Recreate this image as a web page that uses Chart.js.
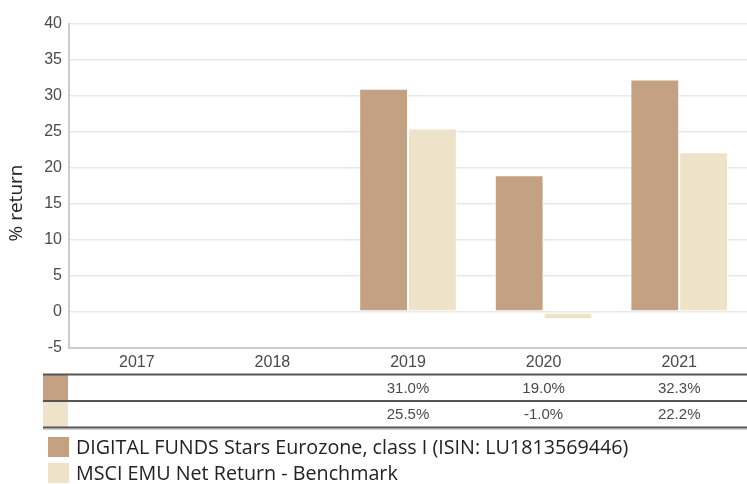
<!DOCTYPE html>
<html><head><meta charset="utf-8">
<script src="https://cdn.jsdelivr.net/npm/chart.js@4"></script>
<style>html,body{margin:0;padding:0;background:#fff}#wrap{width:747px;height:484px;position:relative}</style>
</head><body><div id="wrap"><canvas id="c" width="747" height="484"></canvas></div>
<script>
const categories = ['2017','2018','2019','2020','2021'];
const fundName = 'DIGITAL FUNDS Stars Eurozone, class I (ISIN: LU1813569446)';
const benchName = 'MSCI EMU Net Return - Benchmark';
const fundValues = [null, null, 31.0, 19.0, 32.3];
const benchValues = [null, null, 25.5, -1.0, 22.2];
const yTicks = [-5, 0, 5, 10, 15, 20, 25, 30, 35, 40];
const yTitle = '% return';
const fundColor = '#c4a182';
const benchColor = '#eee2c8';

const tablePlugin = {
  id: 'tableLegend',
  afterDraw(chart) {
    const ctx = chart.ctx;
    const x = chart.scales.x;
    const left = 43, right = 747;
    const lines = [374.5, 401, 427.5];
    ctx.save();
    // y-axis title
    ctx.save();
    ctx.translate(17, 203);
    ctx.rotate(-Math.PI / 2);
    ctx.font = '19px "Open Sans", sans-serif';
    ctx.fillStyle = '#222'; ctx.textAlign = 'center'; ctx.textBaseline = 'middle';
    ctx.fillText(yTitle, 0, 0);
    ctx.restore();
    // swatches
    ctx.fillStyle = fundColor; ctx.fillRect(left, 375, 25, 26);
    ctx.fillStyle = benchColor; ctx.fillRect(left, 401, 25, 27);
    ctx.strokeStyle = '#555'; ctx.lineWidth = 2;
    lines.forEach(y => { ctx.beginPath(); ctx.moveTo(left, y); ctx.lineTo(right, y); ctx.stroke(); });
    ctx.strokeStyle = '#ccc'; ctx.lineWidth = 1;
    ctx.beginPath(); ctx.moveTo(left, 429.5); ctx.lineTo(right, 429.5); ctx.stroke();
    ctx.font = '15px "Liberation Sans", Arial, sans-serif';
    ctx.fillStyle = '#4a4a4a'; ctx.textAlign = 'center'; ctx.textBaseline = 'middle';
    const rows = [fundValues, benchValues];
    const rowY = [389, 415];
    rows.forEach((vals, r) => {
      vals.forEach((v, i) => {
        if (v === null) return;
        ctx.fillText(v.toFixed(1) + '%', x.getPixelForValue(i), rowY[r]);
      });
    });
    // legend
    const legend = [[fundName, fundColor, 447], [benchName, benchColor, 473]];
    ctx.textAlign = 'left';
    ctx.font = '20px "Open Sans", sans-serif';
    legend.forEach(([name, col, y]) => {
      ctx.fillStyle = col; ctx.fillRect(48, y - 10, 21, 20);
      ctx.fillStyle = '#222';
      ctx.save();
      ctx.translate(76, y);
      ctx.scale(0.985, 1);
      ctx.fillText(name, 0, 1);
      ctx.restore();
    });
    ctx.restore();
  }
};

new Chart(document.getElementById('c'), {
  type: 'bar',
  data: {
    labels: categories,
    datasets: [
      { label: fundName, data: fundValues, backgroundColor: fundColor, borderColor: '#ffffff', borderWidth: 1, borderSkipped: false },
      { label: benchName, data: benchValues, backgroundColor: benchColor, borderColor: '#ffffff', borderWidth: 1, borderSkipped: false }
    ]
  },
  options: {
    responsive: false,
    animation: false,
    layout: { padding: { top: 24, right: 0, left: 0, bottom: 0 } },
    categoryPercentage: 0.72,
    barPercentage: 1.0,
    plugins: { legend: { display: false }, tooltip: { enabled: false } },
    scales: {
      x: {
        grid: { display: false, drawTicks: false },
        border: { color: '#ccc', width: 2 },
        ticks: { color: '#4a4a4a', font: { size: 16, family: '"Liberation Sans", Arial, sans-serif' }, padding: 5 },
        afterFit(s) { s.height = 136; }
      },
      y: {
        min: -5, max: 40,
        afterBuildTicks(s) { s.ticks = yTicks.map(v => ({ value: v })); },
        grid: { color: '#e8e8e8', drawTicks: false, lineWidth: 1.5 },
        border: { color: '#ccc', width: 2 },
        ticks: { color: '#4a4a4a', font: { size: 16, family: '"Liberation Sans", Arial, sans-serif' }, padding: 7 },
        title: { display: false },
        afterFit(s) { s.width = 69; }
      }
    }
  },
  plugins: [tablePlugin]
});
</script></body></html>
